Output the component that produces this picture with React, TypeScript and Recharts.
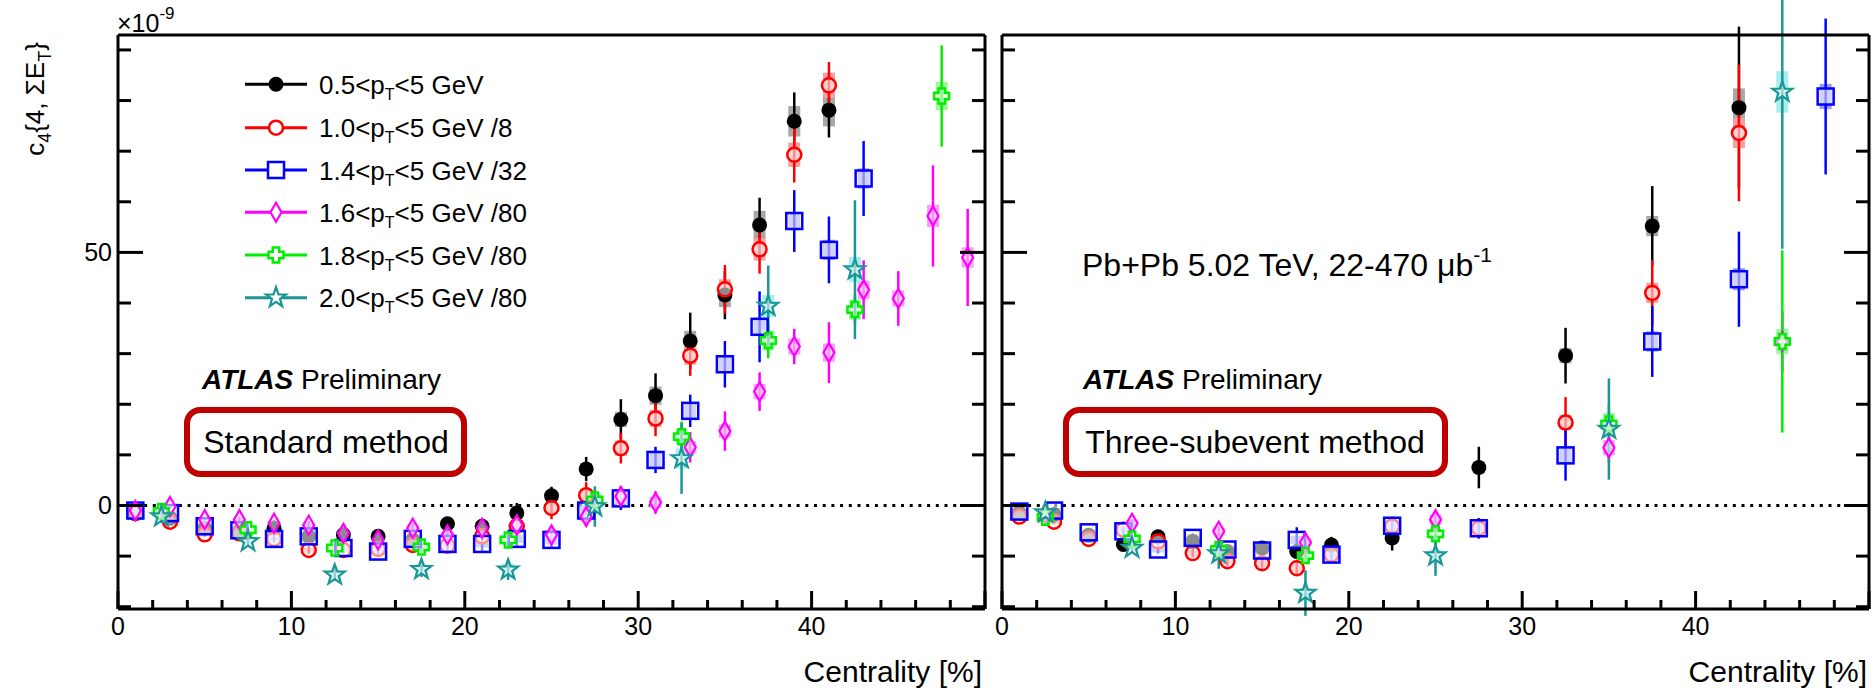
import React from 'react'
import { ScatterChart, Scatter, XAxis, YAxis, ErrorBar, ReferenceLine } from 'recharts'

// ---- Standard method (left panel) ----
const stdCent05 = [1, 3, 5, 7, 9, 11, 13, 15, 17, 19, 21, 23, 25, 27, 29, 31, 33, 35, 37, 39, 41]
const stdVal05 = [-0.9, -2.5, -4.5, -5.1, -4.5, -6.1, -5.8, -6.1, -6.8, -3.6, -4.1, -1.5, 1.9, 7.2, 17.0, 21.7, 32.5, 41.6, 55.4, 75.9, 78.1]
const stdStat05 = [0.3, 0.4, 0.5, 0.6, 0.7, 0.8, 0.9, 1.0, 1.1, 1.3, 1.5, 2.0, 1.8, 2.4, 4.0, 4.4, 5.6, 4.8, 5.4, 5.7, 5.4]
const stdSys05 = [0.3, 0.3, 0.4, 0.4, 0.4, 0.5, 0.5, 0.5, 0.6, 0.6, 0.7, 0.8, 0.9, 1.2, 1.5, 1.8, 2.0, 2.4, 2.8, 3.0, 3.2]

const stdCent10 = [1, 3, 5, 7, 9, 11, 13, 15, 17, 19, 21, 23, 25, 27, 29, 31, 33, 35, 37, 39, 41]
const stdVal10 = [-1.5, -3.2, -5.7, -5.5, -6.6, -8.8, -8.8, -8.6, -7.8, -7.9, -6.1, -4.1, -0.5, 2.0, 11.3, 17.2, 29.6, 42.7, 50.6, 69.3, 83.0]
const stdStat10 = [0.3, 0.4, 0.5, 0.6, 0.7, 0.8, 0.9, 1.0, 1.1, 1.3, 1.5, 1.8, 2.2, 2.6, 3.0, 3.5, 4.0, 4.8, 4.8, 5.5, 4.6]
const stdSys10 = [0.3, 0.3, 0.4, 0.4, 0.4, 0.5, 0.5, 0.5, 0.6, 0.6, 0.7, 0.8, 1.0, 1.3, 1.5, 1.7, 1.8, 2.0, 2.2, 2.4, 2.5]

const stdCent14 = [1, 3, 5, 7, 9, 11, 13, 15, 17, 19, 21, 23, 25, 27, 29, 31, 33, 35, 37, 39, 41, 43]
const stdVal14 = [-1.0, -1.5, -4.1, -4.9, -6.6, -6.1, -8.4, -9.1, -6.6, -7.6, -7.6, -6.6, -6.8, -1.0, 1.4, 9.0, 18.7, 27.9, 35.3, 56.2, 50.5, 64.6]
const stdStat14 = [0.3, 0.4, 0.5, 0.6, 0.7, 0.8, 0.9, 1.0, 1.1, 1.2, 1.4, 1.6, 1.8, 2.0, 2.3, 2.6, 3.2, 4.6, 7.0, 6.1, 6.6, 7.4]
const stdSys14 = [0.3, 0.3, 0.4, 0.4, 0.4, 0.5, 0.5, 0.5, 0.6, 0.6, 0.7, 0.8, 0.9, 1.0, 1.2, 1.4, 1.5, 1.6, 1.8, 1.8, 2.0, 2.0]

const stdCent16 = [1, 3, 5, 7, 9, 11, 13, 15, 17, 19, 21, 23, 25, 27, 29, 31, 33, 35, 37, 39, 41, 43, 45, 47, 49]
const stdVal16 = [-1.0, -0.2, -2.8, -2.8, -3.5, -3.9, -5.5, -6.8, -4.5, -5.8, -4.5, -3.8, -5.8, -2.2, 1.8, 0.6, 11.5, 14.7, 22.5, 31.4, 30.2, 42.6, 40.9, 57.2, 49.0]
const stdStat16 = [0.3, 0.4, 0.5, 0.6, 0.7, 0.8, 0.9, 1.0, 1.1, 1.2, 1.4, 1.5, 1.7, 1.9, 2.0, 2.2, 3.0, 3.9, 3.8, 3.5, 6.0, 5.8, 5.4, 10.0, 9.6]
const stdSys16 = [0.3, 0.3, 0.4, 0.4, 0.4, 0.5, 0.5, 0.5, 0.6, 0.6, 0.7, 0.8, 0.9, 1.0, 1.0, 1.1, 1.2, 1.3, 1.5, 1.6, 1.8, 1.8, 1.6, 2.2, 2.0]

const stdCent18 = [2.5, 7.5, 12.5, 17.5, 22.5, 27.5, 32.5, 37.5, 42.5, 47.5]
const stdVal18 = [-1.2, -4.8, -8.4, -8.2, -6.8, 1.1, 13.6, 32.6, 38.7, 80.9]
const stdStat18 = [0.5, 0.7, 0.9, 1.1, 1.4, 2.0, 3.0, 3.5, 3.0, 10.0]
const stdSys18 = [0.5, 0.6, 0.7, 0.8, 1.0, 1.2, 1.5, 2.0, 2.0, 2.8]

const stdCent20 = [2.5, 7.5, 12.5, 17.5, 22.5, 27.5, 32.5, 37.5, 42.5]
const stdVal20 = [-2.2, -7.1, -13.7, -12.6, -12.7, -0.2, 9.3, 39.4, 46.6]
const stdStat20 = [0.6, 0.9, 1.2, 1.5, 2.0, 4.0, 7.0, 8.0, 13.7]
const stdSys20 = [0.5, 0.6, 0.8, 1.0, 1.2, 1.5, 2.0, 2.2, 2.5]

// ---- Three-subevent method (right panel) ----
const subCent05 = [1, 3, 5, 7, 9, 11, 13, 15, 17, 19, 22.5, 27.5, 32.5, 37.5, 42.5]
const subVal05 = [-1.5, -1.8, -5.9, -7.7, -6.2, -7.1, -9.1, -8.4, -9.1, -7.8, -6.4, 7.5, 29.6, 55.2, 78.6]
const subStat05 = [0.4, 0.5, 0.6, 0.7, 0.8, 0.9, 1.0, 1.2, 1.4, 1.6, 2.5, 4.1, 5.5, 7.9, 16.0]
const subSys05 = [0.4, 0.5, 0.5, 0.6, 0.6, 0.7, 0.7, 0.8, 0.8, 0.9, 1.0, 1.2, 1.5, 2.0, 3.8]

const subCent10 = [1, 3, 5, 7, 9, 11, 13, 15, 17, 19, 22.5, 27.5, 32.5, 37.5, 42.5]
const subVal10 = [-2.2, -3.2, -6.6, -4.8, -7.1, -9.4, -11.0, -11.4, -12.4, -9.7, -4.1, -4.5, 16.4, 42.0, 73.6]
const subStat10 = [0.4, 0.5, 0.6, 0.7, 0.8, 0.9, 1.0, 1.2, 1.5, 1.6, 1.8, 2.0, 5.0, 6.5, 13.5]
const subSys10 = [0.4, 0.5, 0.5, 0.6, 0.6, 0.7, 0.7, 0.8, 0.8, 0.9, 1.0, 1.2, 1.5, 2.0, 3.0]

const subCent14 = [1, 3, 5, 7, 9, 11, 13, 15, 17, 19, 22.5, 27.5, 32.5, 37.5, 42.5, 47.5]
const subVal14 = [-1.2, -1.0, -5.3, -5.1, -8.7, -6.4, -8.7, -8.9, -6.8, -9.7, -4.0, -4.5, 9.9, 32.4, 44.7, 80.8]
const subStat14 = [0.4, 0.5, 0.6, 0.7, 0.8, 0.9, 1.0, 1.2, 2.5, 1.6, 1.8, 2.0, 5.0, 7.0, 9.4, 15.4]
const subSys14 = [0.4, 0.5, 0.5, 0.6, 0.6, 0.7, 0.7, 0.8, 0.8, 0.9, 1.0, 1.2, 1.5, 2.0, 2.2, 2.5]

const subCent16 = [2.5, 7.5, 12.5, 17.5, 25, 35, 45]
const subVal16 = [-1.6, -3.5, -5.1, -7.3, -2.8, 11.4, 32.4]
const subStat16 = [0.6, 0.8, 1.0, 1.3, 1.5, 3.0, 6.0]
const subSys16 = [0.5, 0.6, 0.7, 0.8, 1.0, 1.5, 2.0]

const subCent18 = [2.5, 7.5, 12.5, 17.5, 25, 35, 45]
const subVal18 = [-2.3, -6.6, -8.7, -9.9, -5.6, 16.1, 32.4]
const subStat18 = [0.6, 0.9, 1.2, 1.6, 2.0, 4.0, 18.0]
const subSys18 = [0.5, 0.6, 0.7, 0.8, 1.0, 2.2, 2.5]

const subCent20 = [2.5, 7.5, 12.5, 17.5, 25, 35, 45]
const subVal20 = [-1.4, -8.4, -9.5, -17.3, -9.9, 15.1, 81.7]
const subStat20 = [0.7, 1.0, 3.0, 4.5, 4.0, 10.0, 31.0]
const subSys20 = [0.5, 0.6, 0.8, 1.0, 1.2, 1.5, 4.1]

// axis ticks
const xTicks = [0, 2, 4, 6, 8, 10, 12, 14, 16, 18, 20, 22, 24, 26, 28, 30, 32, 34, 36, 38, 40, 42, 44, 46, 48, 50]
const yTicks = [-20, -10, 0, 10, 20, 30, 40, 50, 60, 70, 80, 90]
const xLabels = [0, 10, 20, 30, 40]
const yLabels = [0, 50]

const legendSub = ['', ' /8', ' /32', ' /80', ' /80', ' /80']
const legendLow = ['0.5', '1.0', '1.4', '1.6', '1.8', '2.0']

const FONT = '"Liberation Sans", Arial, Helvetica, sans-serif'

type Kind = 'dot' | 'circle' | 'square' | 'diamond' | 'cross' | 'star'

const styles: { kind: Kind; color: string; sys: string }[] = [
  { kind: 'dot', color: '#000000', sys: '#a8a8a8' },
  { kind: 'circle', color: '#ff0000', sys: '#f7a0a0' },
  { kind: 'square', color: '#0000ff', sys: '#9c9cf5' },
  { kind: 'diamond', color: '#ff00ff', sys: '#f7a0f7' },
  { kind: 'cross', color: '#00ee00', sys: '#a0f7a0' },
  { kind: 'star', color: '#1a9696', sys: '#a8eeee' },
]

const zip = (c: number[], v: number[], s: number[], y: number[]) =>
  c.map((x, i) => ({ x, y: v[i], stat: s[i], sys: y[i] }))

const stdData = [
  zip(stdCent05, stdVal05, stdStat05, stdSys05),
  zip(stdCent10, stdVal10, stdStat10, stdSys10),
  zip(stdCent14, stdVal14, stdStat14, stdSys14),
  zip(stdCent16, stdVal16, stdStat16, stdSys16),
  zip(stdCent18, stdVal18, stdStat18, stdSys18),
  zip(stdCent20, stdVal20, stdStat20, stdSys20),
]
const subData = [
  zip(subCent05, subVal05, subStat05, subSys05),
  zip(subCent10, subVal10, subStat10, subSys10),
  zip(subCent14, subVal14, subStat14, subSys14),
  zip(subCent16, subVal16, subStat16, subSys16),
  zip(subCent18, subVal18, subStat18, subSys18),
  zip(subCent20, subVal20, subStat20, subSys20),
]

function Marker({ cx, cy, kind, color, fillOpacity }: { cx: number; cy: number; kind: Kind; color: string; fillOpacity: number }) {
  if (cx == null || cy == null) return null
  const f = { fill: '#fff', fillOpacity, stroke: color }
  switch (kind) {
    case 'dot':
      return <circle cx={cx} cy={cy} r={7.5} fill={color} />
    case 'circle':
      return <circle cx={cx} cy={cy} r={7} {...f} strokeWidth={2.5} />
    case 'square':
      return <rect x={cx - 8} y={cy - 8} width={16} height={16} {...f} strokeWidth={2.5} />
    case 'diamond':
      return (
        <polygon
          points={`${cx},${cy - 9.5} ${cx + 5.5},${cy} ${cx},${cy + 9.5} ${cx - 5.5},${cy}`}
          {...f}
          strokeWidth={2.2}
        />
      )
    case 'cross': {
      const a = 3.2
      const l = 7.5
      const p = [
        [-a, -l], [a, -l], [a, -a], [l, -a], [l, a], [a, a], [a, l], [-a, l], [-a, a], [-l, a], [-l, -a], [-a, -a],
      ]
      return <polygon points={p.map(([x, y]) => `${cx + x},${cy + y}`).join(' ')} {...f} strokeWidth={2.5} />
    }
    case 'star': {
      const pts: string[] = []
      for (let i = 0; i < 10; i++) {
        const r = i % 2 === 0 ? 10.5 : 4.2
        const ang = -Math.PI / 2 + (i * Math.PI) / 5
        pts.push(`${cx + r * Math.cos(ang)},${cy + r * Math.sin(ang)}`)
      }
      return <polygon points={pts.join(' ')} {...f} strokeWidth={2.2} />
    }
  }
  return null
}

const bottomTick = (p: any) => {
  const v = p.payload.value
  const len = v % 10 === 0 ? 18 : 9
  return (
    <g>
      <line x1={p.x} x2={p.x} y1={p.y} y2={p.y - len} stroke="#000" strokeWidth={3} />
      {xLabels.includes(v) && (
        <text x={p.x} y={p.y + 26} textAnchor="middle" fontSize={25} fontFamily={FONT} fill="#000">
          {v}
        </text>
      )}
    </g>
  )
}

const topTick = (p: any) => {
  const v = p.payload.value
  const len = v % 10 === 0 ? 18 : 9
  return <line x1={p.x} x2={p.x} y1={p.y} y2={p.y + len} stroke="#000" strokeWidth={3} />
}

const leftTick = (labels: boolean) => (p: any) => {
  const v = p.payload.value
  const len = v % 50 === 0 ? 25 : 13
  return (
    <g>
      <line x1={p.x} x2={p.x + len} y1={p.y} y2={p.y} stroke="#000" strokeWidth={3} />
      {labels && yLabels.includes(v) && (
        <text x={p.x - 6} y={p.y + 9} textAnchor="end" fontSize={25} fontFamily={FONT} fill="#000">
          {v}
        </text>
      )}
    </g>
  )
}

const rightTick = (p: any) => {
  const v = p.payload.value
  const len = v % 50 === 0 ? 25 : 13
  return <line x1={p.x} x2={p.x - len} y1={p.y} y2={p.y} stroke="#000" strokeWidth={3} />
}

function Panel({ data, labels, width, margin }: { data: any[][]; labels: boolean; width: number; margin: any }) {
  return (
    <ScatterChart width={width} height={689} margin={margin}>
      <XAxis
        type="number"
        dataKey="x"
        domain={[0, 50]}
        ticks={xTicks}
        interval={0}
        allowDataOverflow
        height={30}
        tickSize={0}
        tickMargin={0}
        tickLine={false}
        axisLine={{ stroke: '#000', strokeWidth: 3 }}
        tick={bottomTick}
      />
      <XAxis
        xAxisId="top"
        orientation="top"
        type="number"
        domain={[0, 50]}
        ticks={xTicks}
        interval={0}
        allowDataOverflow
        height={10}
        tickSize={0}
        tickMargin={0}
        tickLine={false}
        axisLine={{ stroke: '#000', strokeWidth: 3 }}
        tick={topTick}
      />
      <YAxis
        type="number"
        dataKey="y"
        domain={[-20.45, 92.95]}
        ticks={yTicks}
        interval={0}
        allowDataOverflow
        width={labels ? 100 : 10}
        tickSize={0}
        tickMargin={0}
        tickLine={false}
        axisLine={{ stroke: '#000', strokeWidth: 3 }}
        tick={leftTick(labels)}
      />
      <YAxis
        yAxisId="right"
        orientation="right"
        type="number"
        domain={[-20.45, 92.95]}
        ticks={yTicks}
        interval={0}
        allowDataOverflow
        width={labels ? 10 : 3}
        tickSize={0}
        tickMargin={0}
        tickLine={false}
        axisLine={{ stroke: '#000', strokeWidth: 3 }}
        tick={rightTick}
      />
      <ReferenceLine y={0} stroke="#000" strokeWidth={3} strokeDasharray="3 5.7" />
      {data.map((d, i) => {
        const st = styles[i]
        return (
          <Scatter
            key={i}
            data={d}
            isAnimationActive={false}
            shape={(p: any) => <Marker cx={p.cx} cy={p.cy} kind={st.kind} color={st.color} fillOpacity={0.55} />}
          >
            <ErrorBar dataKey="sys" direction="y" width={0} strokeWidth={12} stroke={st.sys} isAnimationActive={false} />
            <ErrorBar dataKey="stat" direction="y" width={0} strokeWidth={2.5} stroke={st.color} isAnimationActive={false} />
          </Scatter>
        )
      })}
    </ScatterChart>
  )
}

function Overlay() {
  const legendY = [84.3, 127.7, 170, 212.3, 255, 297.7]
  return (
    <svg width={1872} height={689} style={{ position: 'absolute', left: 0, top: 0, pointerEvents: 'none' }} fontFamily={FONT}>
      {/* y title */}
      <text transform="translate(44,99) rotate(-90)" textAnchor="middle" fontSize={26} fill="#000">
        c<tspan fontSize={18} dy={7}>4</tspan>
        <tspan dy={-7}>{'{4, ΣE'}</tspan>
        <tspan fontSize={18} dy={7}>T</tspan>
        <tspan dy={-7}>{'}'}</tspan>
      </text>
      <text x={117} y={32} fontSize={25} fill="#000">
        ×10<tspan fontSize={17} dy={-13}>-9</tspan>
      </text>

      {/* legend */}
      {styles.map((st, i) => (
        <g key={i}>
          <line x1={245} x2={307} y1={legendY[i]} y2={legendY[i]} stroke={st.color} strokeWidth={3} />
          <Marker cx={276} cy={legendY[i]} kind={st.kind} color={st.color} fillOpacity={1} />
          <text x={319} y={legendY[i] + 9.5} fontSize={26} fill="#000">
            {legendLow[i]}&lt;p<tspan fontSize={16} dy={6}>T</tspan>
            <tspan dy={-6}>{'<5 GeV' + legendSub[i]}</tspan>
          </text>
        </g>
      ))}

      {/* left annotations */}
      <text x={202} y={389} fontSize={28} fill="#000">
        <tspan fontWeight="bold" fontStyle="italic">ATLAS</tspan> Preliminary
      </text>
      <rect x={187} y={410} width={277} height={64} rx={13} fill="#fff" stroke="#c00000" strokeWidth={6} />
      <text x={326} y={453} textAnchor="middle" fontSize={32} fill="#000">
        Standard method
      </text>
      <text x={982} y={682} textAnchor="end" fontSize={30} fill="#000">
        Centrality [%]
      </text>

      {/* right annotations */}
      <text x={1082} y={276} fontSize={32} fill="#000">
        Pb+Pb 5.02 TeV, 22-470 μb<tspan fontSize={21} dy={-14}>-1</tspan>
      </text>
      <text x={1083} y={389} fontSize={28} fill="#000">
        <tspan fontWeight="bold" fontStyle="italic">ATLAS</tspan> Preliminary
      </text>
      <rect x={1066} y={410} width={379} height={64} rx={13} fill="#fff" stroke="#c00000" strokeWidth={6} />
      <text x={1255} y={453} textAnchor="middle" fontSize={32} fill="#000">
        Three-subevent method
      </text>
      <text x={1867} y={682} textAnchor="end" fontSize={30} fill="#000">
        Centrality [%]
      </text>
    </svg>
  )
}

export default function App() {
  return (
    <div style={{ position: 'absolute', left: 0, top: 0, width: 1872, height: 689, background: '#fff', overflow: 'hidden' }}>
      <div style={{ position: 'absolute', left: 0, top: 0 }}>
        <Panel data={stdData} labels={true} width={1000} margin={{ top: 25, right: 5, bottom: 50, left: 18 }} />
      </div>
      <div style={{ position: 'absolute', left: 990, top: 0 }}>
        <Panel data={subData} labels={false} width={882} margin={{ top: 25, right: 0, bottom: 50, left: 2 }} />
      </div>
      <Overlay />
    </div>
  )
}
